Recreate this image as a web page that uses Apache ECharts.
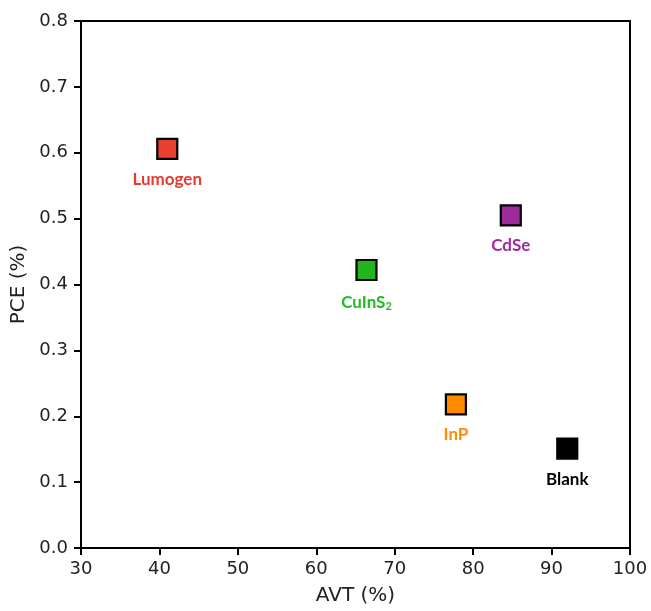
<!DOCTYPE html>
<html><head><meta charset="utf-8">
<script src="https://cdn.jsdelivr.net/npm/echarts@6/dist/echarts.min.js"></script>
<style>html,body{margin:0;padding:0;background:#fff}#c{width:651px;height:611px}</style>
</head><body><div id="c"></div>
<script>
const names = ['Lumogen','CuInS2','CdSe','InP','Blank'];
const avt = [41.0, 66.4, 84.8, 77.8, 92.0];
const pce = [0.606, 0.422, 0.505, 0.218, 0.151];
const fillColors = ['#e8402f','#22b51e','#9c2b9c','#ff8a00','#000000'];
const labelColors = ['#e8392e','#22bb22','#a02aa0','#ff8c00','#000000'];
const xTicks = [30,40,50,60,70,80,90,100];
const yTicks = [0.0,0.1,0.2,0.3,0.4,0.5,0.6,0.7,0.8];

const LF = 'Lato';
const chart = echarts.init(document.getElementById('c'));
const series = names.map((n,i)=>({
  type:'scatter',
  data:[[avt[i],pce[i]]],
  symbol:'rect',
  symbolSize:20,
  itemStyle:{color:fillColors[i],borderColor:'#000',borderWidth:2.2,opacity:1},
  label:{
    show:true, position:'bottom', distance:11,
    formatter: n==='CuInS2' ? '{a|CuInS}{s|2}' : n,
    color:labelColors[i], fontWeight:'bold', fontSize:17, fontFamily:LF,
    rich: n==='CuInS2' ? {a:{color:labelColors[i],fontWeight:'bold',fontSize:17,fontFamily:LF},
                          s:{color:labelColors[i],fontWeight:'bold',fontSize:11,fontFamily:LF,padding:[9,0,0,0]}} : undefined
  }
}));
chart.setOption({
  animation:false,
  grid:{left:81,right:21,top:21,bottom:56,show:true,borderColor:'#000',borderWidth:2,backgroundColor:'transparent'},
  xAxis:{type:'value',min:30,max:100,interval:10,name:'AVT (%)',nameLocation:'middle',nameGap:38,
    nameTextStyle:{fontSize:20,color:'#222',fontFamily:'DejaVu Sans'},
    axisLine:{show:true,lineStyle:{color:'#000',width:2}},
    axisTick:{show:true,length:7,lineStyle:{color:'#000',width:2}},
    axisLabel:{fontSize:18,color:'#222',fontFamily:'DejaVu Sans',margin:12},
    splitLine:{show:false}},
  yAxis:{type:'value',min:0,max:0.8,interval:0.1,name:'PCE (%)',nameLocation:'middle',nameGap:52,
    nameTextStyle:{fontSize:20,color:'#222',fontFamily:'DejaVu Sans'},
    axisLine:{show:true,lineStyle:{color:'#000',width:2}},
    axisTick:{show:true,length:7,lineStyle:{color:'#000',width:2}},
    axisLabel:{fontSize:18,color:'#222',fontFamily:'DejaVu Sans',margin:13,formatter:v=>v.toFixed(1)},
    splitLine:{show:false}},
  series:series
});
</script></body></html>
